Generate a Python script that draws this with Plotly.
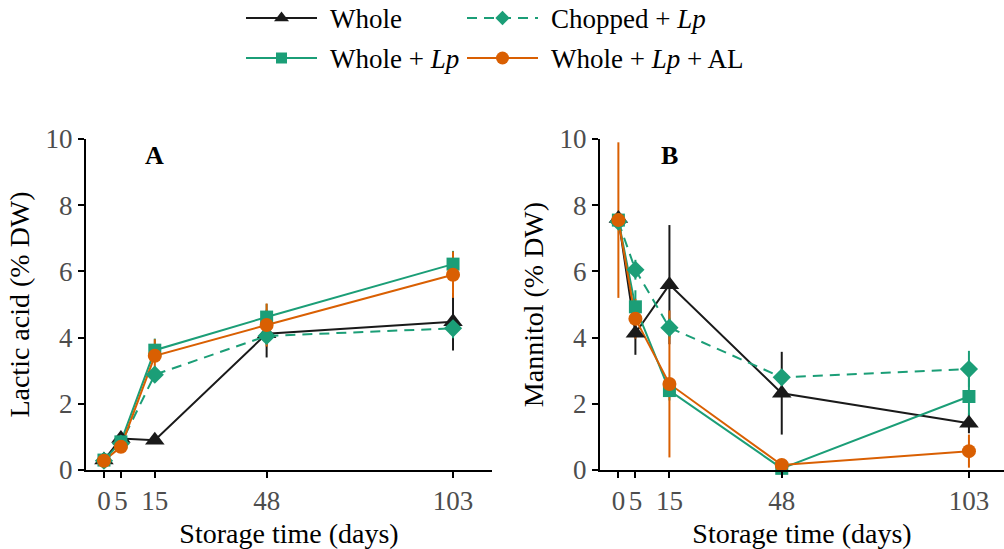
import plotly.graph_objects as go

# Storage days sampled
days = [0, 5, 15, 48, 103]
day_labels = ["0", "5", "15", "48", "103"]

# Treatment labels
treatments = ["Whole", "Whole + <i>Lp</i>", "Chopped + <i>Lp</i>", "Whole + <i>Lp</i> + AL"]

# Lactic acid (% DW), means and standard deviations
lactic_whole = [0.30, 0.95, 0.90, 4.12, 4.48]
lactic_whole_sd = [0.05, 0.05, 0.05, 0.72, 0.87]
lactic_whole_lp = [0.30, 0.85, 3.62, 4.62, 6.22]
lactic_whole_lp_sd = [0.05, 0.10, 0.35, 0.40, 0.40]
lactic_chopped_lp = [0.28, 0.80, 2.88, 4.05, 4.28]
lactic_chopped_lp_sd = [0.05, 0.10, 0.20, 0.20, 0.30]
lactic_whole_lp_al = [0.28, 0.70, 3.45, 4.38, 5.90]
lactic_whole_lp_al_sd = [0.05, 0.10, 0.50, 0.65, 0.70]

# Mannitol (% DW), means and standard deviations
mannitol_whole = [7.60, 4.13, 5.60, 2.32, 1.41]
mannitol_whole_sd = [0.20, 0.65, 1.80, 1.25, 0.30]
mannitol_whole_lp = [7.55, 4.93, 2.40, 0.05, 2.22]
mannitol_whole_lp_sd = [0.20, 0.50, 0.30, 0.05, 0.90]
mannitol_chopped_lp = [7.50, 6.05, 4.30, 2.80, 3.05]
mannitol_chopped_lp_sd = [0.20, 0.30, 0.30, 0.20, 0.55]
mannitol_whole_lp_al = [7.55, 4.57, 2.60, 0.15, 0.57]
mannitol_whole_lp_al_sd = [2.35, 0.60, 2.22, 0.10, 0.50]

BLACK = "#1a1a1a"
GREEN = "#1b9e77"
ORANGE = "#d95f02"
FONT = "Liberation Serif"

styles = {
    "Whole": dict(color=BLACK, symbol="triangle-up", size=17, lsize=13, dash="solid"),
    "Whole + <i>Lp</i>": dict(color=GREEN, symbol="square", size=13, lsize=11, dash="solid"),
    "Chopped + <i>Lp</i>": dict(color=GREEN, symbol="diamond", size=14, lsize=11, dash="10px,7px"),
    "Whole + <i>Lp</i> + AL": dict(color=ORANGE, symbol="circle", size=14, lsize=13, dash="solid"),
}

panels = [
    ("x", "y", [
        (treatments[0], lactic_whole, lactic_whole_sd),
        (treatments[1], lactic_whole_lp, lactic_whole_lp_sd),
        (treatments[2], lactic_chopped_lp, lactic_chopped_lp_sd),
        (treatments[3], lactic_whole_lp_al, lactic_whole_lp_al_sd),
    ]),
    ("x2", "y2", [
        (treatments[0], mannitol_whole, mannitol_whole_sd),
        (treatments[1], mannitol_whole_lp, mannitol_whole_lp_sd),
        (treatments[2], mannitol_chopped_lp, mannitol_chopped_lp_sd),
        (treatments[3], mannitol_whole_lp_al, mannitol_whole_lp_al_sd),
    ]),
]

fig = go.Figure()

for xa, ya, series in panels:
    # error bars underneath everything
    for name, vals, sd in series:
        st = styles[name]
        fig.add_trace(go.Scatter(
            x=days, y=vals, xaxis=xa, yaxis=ya, mode="markers",
            marker=dict(size=1, opacity=0),
            error_y=dict(type="data", array=sd, visible=True, color=st["color"],
                         thickness=2, width=0),
            showlegend=False, hoverinfo="skip", cliponaxis=False,
        ))
    # connecting lines
    for name, vals, sd in series:
        st = styles[name]
        fig.add_trace(go.Scatter(
            x=days, y=vals, xaxis=xa, yaxis=ya, mode="lines",
            line=dict(color=st["color"], width=2, dash=st["dash"]),
            showlegend=False, hoverinfo="skip", cliponaxis=False,
        ))
    # points on top
    for name, vals, sd in series:
        st = styles[name]
        fig.add_trace(go.Scatter(
            x=days, y=vals, xaxis=xa, yaxis=ya, mode="markers", name=name,
            marker=dict(color=st["color"], symbol=st["symbol"], size=st["size"],
                        line=dict(width=0)),
            showlegend=False, cliponaxis=False,
        ))

# Legend keys drawn on a pixel-unit helper axis spanning the page
W, H = 1004, 549
legend_cols = [246, 467]
legend_rows = [18, 58]
key_len = 71
legend_layout = [
    (treatments[0], 0, 0),
    (treatments[2], 0, 1),
    (treatments[1], 1, 0),
    (treatments[3], 1, 1),
]
annotations = []
for name, r, c in legend_layout:
    st = styles[name]
    x0 = legend_cols[c]
    yy = legend_rows[r]
    fig.add_trace(go.Scatter(
        x=[x0, x0 + key_len], y=[yy, yy], xaxis="x3", yaxis="y3", mode="lines",
        line=dict(color=st["color"], width=2, dash=st["dash"]),
        showlegend=False, hoverinfo="skip", cliponaxis=False,
    ))
    fig.add_trace(go.Scatter(
        x=[x0 + key_len / 2], y=[yy], xaxis="x3", yaxis="y3", mode="markers",
        marker=dict(color=st["color"], symbol=st["symbol"], size=st["lsize"]),
        showlegend=False, hoverinfo="skip", cliponaxis=False,
    ))
    annotations.append(dict(
        x=x0 + key_len + 11, y=yy + 1, xref="x3", yref="y3", text=name,
        showarrow=False, xanchor="left", yanchor="middle",
        font=dict(family=FONT, size=27, color="black"),
    ))

# Panel letters
annotations.append(dict(x=15, y=9.5, xref="x", yref="y", text="<b>A</b>", showarrow=False,
                        font=dict(family=FONT, size=26, color="black")))
annotations.append(dict(x=15, y=9.5, xref="x2", yref="y2", text="<b>B</b>", showarrow=False,
                        font=dict(family=FONT, size=26, color="black")))

ydom = [1 - 470 / H, 1 - 139 / H]
axis_common = dict(
    showline=True, linecolor="black", linewidth=2, ticks="outside", ticklen=6,
    tickwidth=1.5, tickcolor="black", showgrid=False, zeroline=False, automargin=False,
    tickfont=dict(family=FONT, size=27, color="#4d4d4d"),
)
xaxis_common = dict(axis_common, tickvals=days, ticktext=day_labels,
                    title=dict(text="Storage time (days)", standoff=8,
                               font=dict(family=FONT, size=28, color="black")))
yaxis_common = dict(axis_common, range=[0, 10], tickvals=[0, 2, 4, 6, 8, 10])

fig.update_layout(
    width=W, height=H,
    margin=dict(l=0, r=0, t=0, b=0),
    paper_bgcolor="white", plot_bgcolor="rgba(0,0,0,0)",
    showlegend=False,
    xaxis=dict(xaxis_common, domain=[86 / W, 492 / W], range=[-5.3, 114.5], anchor="y"),
    yaxis=dict(yaxis_common, domain=ydom, anchor="x",
               title=dict(text="Lactic acid (% DW)", standoff=8,
                          font=dict(family=FONT, size=28, color="black"))),
    xaxis2=dict(xaxis_common, domain=[600 / W, 1.0], range=[-5.4, 113.3], anchor="y2"),
    yaxis2=dict(yaxis_common, domain=ydom, anchor="x2",
                title=dict(text="Mannitol (% DW)", standoff=8,
                           font=dict(family=FONT, size=28, color="black"))),
    xaxis3=dict(domain=[0, 1], range=[0, W], visible=False, fixedrange=True,
                anchor="y3", automargin=False),
    yaxis3=dict(domain=[0, 1], range=[H, 0], visible=False, fixedrange=True,
                anchor="x3", automargin=False),
    annotations=annotations,
)

fig.write_html("out.html")
